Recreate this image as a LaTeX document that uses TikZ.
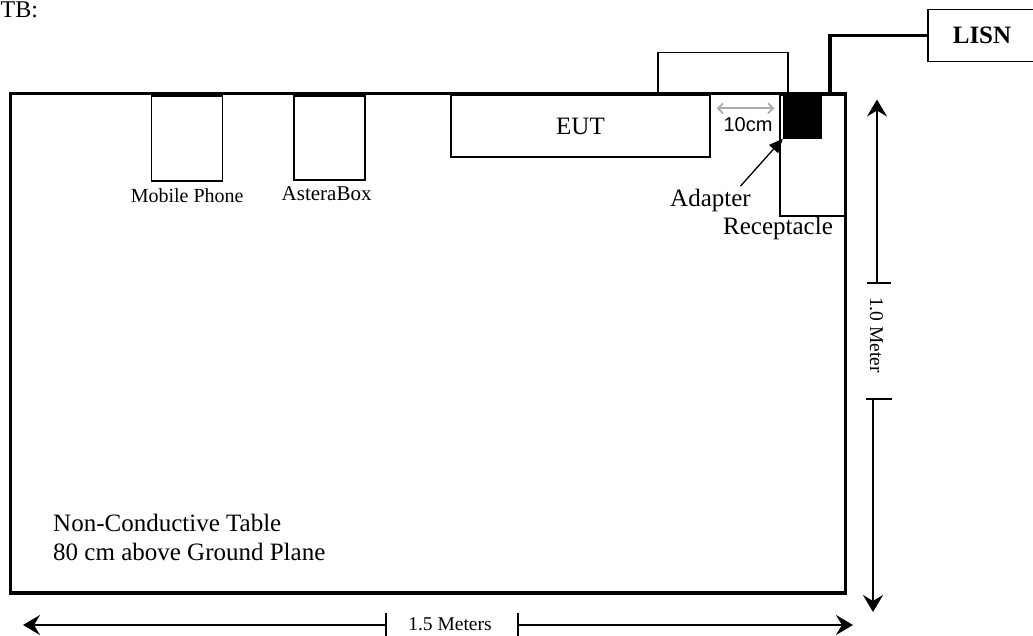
\documentclass[tikz,border=0pt]{standalone}
\usepackage{fontspec}
\setmainfont{Liberation Serif}
\newfontfamily\arialfont{Liberation Sans}
\usetikzlibrary{
	arrows.meta,
	positioning,
	calc
}
\tikzset{
	thin box/.style={
		draw,
		rectangle,
		line width=1.3pt,
		inner sep=0pt
	},
	table edge/.style={
		draw,
		rectangle,
		line width=3.4pt,
		inner sep=0pt
	},
	cable/.style={
		line width=3.5pt
	},
	dim line/.style={
		line width=2pt,
		-{Stealth[length=17pt,width=20pt,inset=6pt]}
	},
	dim tick/.style={
		line width=2pt
	},
	gap line/.style={
		line width=1.8pt,
		draw=gray!65,
		{Straight Barb[length=5pt,width=10pt]}-{Straight Barb[length=5pt,width=10pt]}
	},
	pointer/.style={
		line width=1.3pt,
		-{Triangle[length=14pt,width=12pt]}
	},
	label text/.style={
		font=\fontsize{25}{29}\selectfont,
		inner sep=0pt
	},
	small text/.style={
		font=\fontsize{20}{24}\selectfont,
		inner sep=0pt
	}
}

\begin{document}
\begin{tikzpicture}[x=1pt,y=-1pt] %%%%% TABLE TOP LAYOUT
		\useasboundingbox (0,0) rectangle (1033,636);
		\node[label text, font=\fontsize{24}{28}\selectfont, anchor=base west] (title) at (0.5,18) {TB:};
		%% boxes on the table
		\node[thin box, minimum width=71pt, minimum height=85pt] (phone) at (187.2,138.4) {};
		\node[small text, anchor=base] (phonelabel) at ($(phone.south)+(0,21)$) {Mobile Phone};
		\node[thin box, minimum width=71pt, minimum height=84pt] (astera) at (329.6,138) {};
		\node[small text, font=\fontsize{21}{25}\selectfont, anchor=base] (asteralabel) at ($(astera.south)+(-3,20)$) {AsteraBox};
		\node[thin box, minimum width=259pt, minimum height=62pt, label text] (eut) at (580.5,126) {EUT};
		\node[thin box, minimum width=130pt, minimum height=41pt] (upper) at (723,73) {};
		\node[thin box, minimum width=65pt, minimum height=121pt] (receptacle) at (812.5,155.5) {};
		\node[thin box, fill=black, minimum width=38pt, minimum height=43pt] (adapter) at (802.5,116.5) {};
		%% the table itself
		\node[table edge, minimum width=835pt, minimum height=499.5pt] (table) at (428,343.3) {};
		\node[label text, anchor=base west] (note1) at (53,531.7) {Non-Conductive Table};
		\node[label text, anchor=base west] (note2) at ($(note1.base west)+(0,29)$) {80 cm above Ground Plane};
		%% 10 cm gap
		\draw[gap line] ($(eut.north east)+(6,14)$) -- ($(receptacle.north west)+(-5,14)$);
		\node[small text, font=\arialfont\fontsize{20}{24}\selectfont, anchor=base] (gaplabel) at (748,131.7) {10cm};
		%% adapter and receptacle
		\node[label text, anchor=base west] (adapterlabel) at (670,206.7) {Adapter};
		\node[label text, anchor=base west] (receptaclelabel) at (723,235) {Receptacle};
		\draw[pointer] ($(adapterlabel.north)+(30,-3)$) -- (adapter.south west);
		%% LISN and its cable
		\node[thin box, minimum width=108pt, minimum height=52pt, label text, font=\bfseries\fontsize{25}{29}\selectfont] (lisn) at (982,35.5) {LISN};
		\coordinate (cableend) at (830,93.3);
		\draw[cable] (cableend) |- (lisn.west);
		%% 1.0 Meter
		\coordinate (vtop) at (877,99.5);
		\coordinate (vmida) at (877,283);
		\coordinate (vmidb) at (873,399);
		\coordinate (vbot) at (873,612);
		\draw[dim line] (vmida) -- (vtop);
		\draw[dim line] (vmidb) -- (vbot);
		\draw[dim tick] (867,283) -- (891,283);
		\draw[dim tick] (866,399) -- (892,399);
		\node[small text, font=\fontsize{19.5}{23}\selectfont, rotate=-90] (vlabel) at (876.5,335) {1.0 Meter};
		%% 1.5 Meters
		\coordinate (hleft) at (23,625);
		\coordinate (hmida) at (386,625);
		\coordinate (hmidb) at (518,625);
		\coordinate (hright) at (853,625);
		\draw[dim line] (hmida) -- (hleft);
		\draw[dim line] (hmidb) -- (hright);
		\draw[dim tick] (386,613) -- (386,640);
		\draw[dim tick] (518,613) -- (518,640);
		\node[small text, font=\fontsize{19.5}{23}\selectfont, anchor=base] (hlabel) at (450,630) {1.5 Meters};
	\end{tikzpicture}
\end{document}
